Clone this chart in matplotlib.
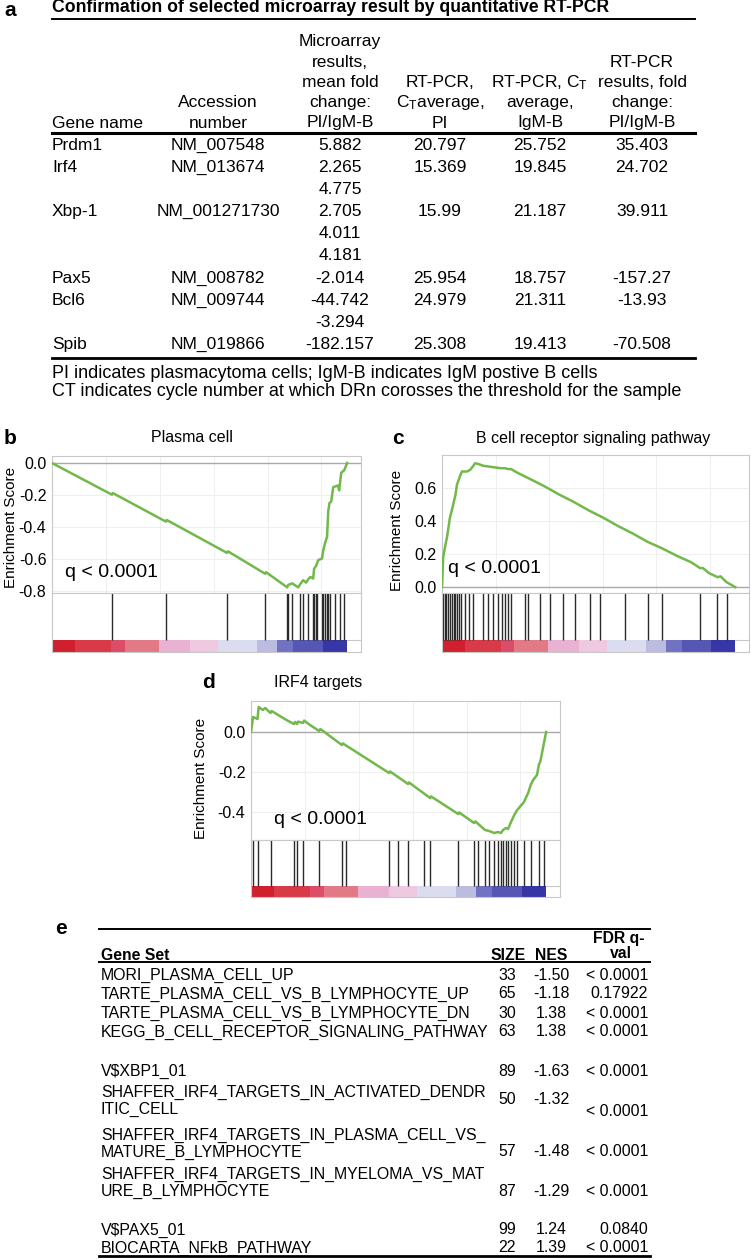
import matplotlib
matplotlib.use("Agg")
import matplotlib.pyplot as plt
from matplotlib.lines import Line2D

W, H = 751, 1260

plt.rcParams['font.family'] = ['Liberation Sans', 'DejaVu Sans']
plt.rcParams['mathtext.fontset'] = 'custom'
plt.rcParams['mathtext.rm'] = 'Liberation Sans'
plt.rcParams['mathtext.it'] = 'Liberation Sans:italic'
plt.rcParams['mathtext.bf'] = 'Liberation Sans:bold'

# ---------------- panel a: RT-PCR table
a_title = "Confirmation of selected microarray result by quantitative RT-PCR"
a_headers = [["Gene name"],
             ["Accession", "number"],
             ["Microarray", "results,", "mean fold", "change:", "PI/IgM-B"],
             ["RT-PCR,", r"C$_{\mathrm{T}}$average,", "PI"],
             [r"RT-PCR, C$_{\mathrm{T}}$", "average,", "IgM-B"],
             ["RT-PCR", "results, fold", "change:", "PI/IgM-B"]]
gene_names = ["Prdm1", "Irf4", "", "Xbp-1", "", "", "Pax5", "Bcl6", "", "Spib"]
accessions = ["NM_007548", "NM_013674", "", "NM_001271730", "", "",
              "NM_008782", "NM_009744", "", "NM_019866"]
microarray_fc = ["5.882", "2.265", "4.775", "2.705", "4.011", "4.181",
                 "-2.014", "-44.742", "-3.294", "-182.157"]
ct_pi = ["20.797", "15.369", "", "15.99", "", "", "25.954", "24.979", "", "25.308"]
ct_igm = ["25.752", "19.845", "", "21.187", "", "", "18.757", "21.311", "", "19.413"]
rtpcr_fc = ["35.403", "24.702", "", "39.911", "", "", "-157.27", "-13.93", "", "-70.508"]
a_notes = ["PI indicates plasmacytoma cells; IgM-B indicates IgM postive B cells",
           "CT indicates cycle number at which DRn corosses the threshold for the sample"]

# ---------------- GSEA panels (x = position in ranked list, 0..1)
b_es_x = [0, 0.203, 0.206, 0.386, 0.389, 0.593, 0.596, 0.722, 0.725, 0.797, 0.80, 0.814,
          0.834, 0.841, 0.851, 0.861, 0.868, 0.875, 0.885, 0.888, 0.895, 0.902, 0.915,
          0.919, 0.925, 0.932, 0.936, 0.940, 0.946, 0.953, 0.969, 0.973, 0.98, 0.99, 1.0]
b_es_y = [0, -0.197, -0.187, -0.365, -0.355, -0.56, -0.55, -0.69, -0.68, -0.775, -0.76, -0.75,
          -0.775, -0.755, -0.73, -0.745, -0.725, -0.71, -0.72, -0.66, -0.64, -0.605, -0.595,
          -0.545, -0.50, -0.46, -0.30, -0.25, -0.24, -0.15, -0.14, -0.17, -0.06, -0.045, 0.0]
b_hits = [0.203, 0.386, 0.593, 0.722, 0.797, 0.80, 0.814, 0.841, 0.851, 0.868, 0.885, 0.888,
          0.895, 0.898, 0.915, 0.919, 0.925, 0.932, 0.936, 0.942, 0.959, 0.976, 0.99]

c_es_x = [0, 0.004, 0.012, 0.017, 0.027, 0.037, 0.046, 0.051, 0.061, 0.068, 0.085, 0.096,
          0.105, 0.113, 0.125, 0.14, 0.16, 0.18, 0.20, 0.215, 0.225, 0.235, 0.26, 0.30, 0.35,
          0.40, 0.45, 0.50, 0.55, 0.60, 0.65, 0.70, 0.75, 0.80, 0.85, 0.88, 0.89, 0.91, 0.94,
          0.95, 0.97, 1.0]
c_es_y = [0, 0.18, 0.26, 0.30, 0.42, 0.49, 0.56, 0.62, 0.67, 0.70, 0.70, 0.71,
          0.73, 0.75, 0.745, 0.735, 0.73, 0.725, 0.72, 0.72, 0.715, 0.715, 0.69, 0.655, 0.61,
          0.56, 0.515, 0.465, 0.42, 0.37, 0.325, 0.275, 0.235, 0.19, 0.15, 0.115, 0.115, 0.085,
          0.06, 0.065, 0.03, 0.0]
c_hits = [0.0, 0.005, 0.01, 0.015, 0.02, 0.027, 0.034, 0.04, 0.046, 0.051, 0.058, 0.065,
          0.078, 0.092, 0.106, 0.14, 0.157, 0.174, 0.19, 0.205, 0.215, 0.225, 0.235, 0.283,
          0.294, 0.334, 0.368, 0.413, 0.454, 0.505, 0.539, 0.625, 0.703, 0.751, 0.881, 0.939,
          0.973]

d_es_x = [0, 0.007, 0.022, 0.026, 0.04, 0.048, 0.066, 0.07, 0.12, 0.146, 0.15, 0.156, 0.16,
          0.176, 0.18, 0.2, 0.231, 0.235, 0.308, 0.311, 0.468, 0.471, 0.532, 0.535, 0.607,
          0.61, 0.702, 0.705, 0.756, 0.76, 0.793, 0.807, 0.824, 0.837, 0.847, 0.854, 0.864,
          0.871, 0.881, 0.892, 0.902, 0.925, 0.939, 0.949, 0.956, 0.969, 0.976, 0.98, 0.99, 1.0]
d_es_y = [0, 0.075, 0.065, 0.125, 0.11, 0.12, 0.095, 0.105, 0.06, 0.04, 0.05, 0.04, 0.052,
          0.045, 0.057, 0.035, 0.005, 0.015, -0.065, -0.057, -0.205, -0.197, -0.26, -0.252,
          -0.33, -0.322, -0.41, -0.402, -0.455, -0.447, -0.49, -0.495, -0.505, -0.50, -0.505,
          -0.49, -0.48, -0.485, -0.45, -0.415, -0.39, -0.35, -0.305, -0.26, -0.24, -0.215,
          -0.16, -0.15, -0.075, 0.0]
d_hits = [0.007, 0.024, 0.068, 0.146, 0.156, 0.176, 0.231, 0.308, 0.322, 0.468, 0.498,
          0.532, 0.586, 0.607, 0.702, 0.756, 0.769, 0.793, 0.807, 0.824, 0.837, 0.847, 0.854,
          0.864, 0.871, 0.881, 0.892, 0.902, 0.925, 0.949, 0.976, 0.993]

# ranked-list colour bar: band edges and colours
band_edges = [0, 0.078, 0.20, 0.247, 0.363, 0.468, 0.563, 0.695, 0.763, 0.817, 0.919, 1.0]
band_colors = ['#d0202e', '#d83a48', '#dc4d6a', '#e27a86', '#eab2d2', '#efc9e0',
               '#dcdcf0', '#bcbce0', '#7272c4', '#5656b4', '#3636a6']

# ---------------- panel e: GSEA table
e_sets = ["MORI_PLASMA_CELL_UP",
          "TARTE_PLASMA_CELL_VS_B_LYMPHOCYTE_UP",
          "TARTE_PLASMA_CELL_VS_B_LYMPHOCYTE_DN",
          "KEGG_B_CELL_RECEPTOR_SIGNALING_PATHWAY",
          "V$XBP1_01",
          "SHAFFER_IRF4_TARGETS_IN_ACTIVATED_DENDR\nITIC_CELL",
          "SHAFFER_IRF4_TARGETS_IN_PLASMA_CELL_VS_\nMATURE_B_LYMPHOCYTE",
          "SHAFFER_IRF4_TARGETS_IN_MYELOMA_VS_MAT\nURE_B_LYMPHOCYTE",
          "V$PAX5_01",
          "BIOCARTA_NFkB_PATHWAY"]
e_size = ["33", "65", "30", "63", "89", "50", "57", "87", "99", "22"]
e_nes = ["-1.50", "-1.18", "1.38", "1.38", "-1.63", "-1.32", "-1.48", "-1.29", "1.24", "1.39"]
e_fdr = ["< 0.0001", "0.17922", "< 0.0001", "< 0.0001", "< 0.0001", "< 0.0001",
         "< 0.0001", "< 0.0001", "0.0840", "< 0.0001"]

fig = plt.figure(figsize=(W / 100, H / 100), dpi=100)


def tx(x, y, s, **kw):
    kw.setdefault('va', 'center')
    fig.text(x / W, 1 - y / H, s, **kw)


def hline(x0, x1, y, lw=1.0):
    fig.add_artist(Line2D([x0 / W, x1 / W], [1 - y / H, 1 - y / H], lw=lw,
                          color='black', transform=fig.transFigure))


def px_axes(x0, y0, x1, y1):
    return fig.add_axes([x0 / W, 1 - y1 / H, (x1 - x0) / W, (y1 - y0) / H])


# ----- panel a
tx(4, 11, "a", fontsize=15, fontweight='bold')
tx(52, 8, a_title, fontsize=12.7, fontweight='bold')
hline(52, 695, 19, lw=1.4)
col_x = [52, 218, 340, 440, 540, 642]
for ci, lines in enumerate(a_headers):
    for k, line in enumerate(reversed(lines)):
        tx(col_x[ci], 123 - 20.3 * k, line, fontsize=12.5,
           ha='left' if ci == 0 else 'center')
hline(52, 695, 133, lw=2.2)
cols = [gene_names, accessions, microarray_fc, ct_pi, ct_igm, rtpcr_fc]
for ci, col in enumerate(cols):
    for ri, val in enumerate(col):
        if val:
            tx(col_x[ci], 145 + 22.2 * ri, val, fontsize=12.5,
               ha='left' if ci == 0 else 'center')
hline(52, 695, 358, lw=2.0)
for k, note in enumerate(a_notes):
    tx(52, 373 + 19 * k, note, fontsize=13)


# ----- GSEA panels
def gsea(left, right, top, es_bot, hit_bot, bar_bot, es_x, es_y, hits, ylim, yticks,
         letter, letter_xy, title, title_x, q_xy, ylab_xy):
    xmax = 1.047
    ax = px_axes(left, top, right, es_bot)
    ax.plot(es_x, es_y, color='#72b84a', lw=1.8, zorder=3)
    ax.axhline(0, color='#a8a8a8', lw=1.0, zorder=2)
    ax.set_xlim(0, xmax)
    ax.set_ylim(*ylim)
    ax.set_yticks(yticks)
    ax.set_yticklabels([f"{t:.1f}" for t in yticks])
    ax.set_xticks([0.1826 * k for k in range(1, 6)])
    ax.set_xticklabels([])
    ax.grid(True, color='#efefef', lw=0.8)
    ax.tick_params(length=0, pad=4, labelsize=11.5)
    for s in ax.spines.values():
        s.set_color('#c8c8c8')
    tx(ylab_xy[0], ylab_xy[1], "Enrichment Score", fontsize=11, rotation=90, ha='center')
    tx(q_xy[0], q_xy[1], "q < 0.0001", fontsize=14)
    tx(letter_xy[0], letter_xy[1], letter, fontsize=15, fontweight='bold')
    tx(title_x, letter_xy[1], title, fontsize=11.5, ha='center')

    axh = px_axes(left, es_bot, right, bar_bot)
    bar_frac = (bar_bot - hit_bot) / (bar_bot - es_bot)
    axh.set_xlim(0, xmax)
    axh.set_ylim(0, 1)
    axh.vlines(hits, bar_frac, 1, color='#2a2a2a', lw=1.0)
    for e0, e1, c in zip(band_edges[:-1], band_edges[1:], band_colors):
        axh.axvspan(e0, e1, 0, bar_frac, color=c, lw=0)
    axh.axhline(bar_frac, xmin=1 / xmax, color='#c8c8c8', lw=0.8)
    axh.set_xticks([])
    axh.set_yticks([])
    for s in axh.spines.values():
        s.set_color('#c8c8c8')


gsea(52, 361, 456, 593, 640, 652, b_es_x, b_es_y, b_hits, (-0.81, 0.044),
     [0.0, -0.2, -0.4, -0.6, -0.8], "b", (4, 438), "Plasma cell", 192,
     (65, 573), (11, 527))
gsea(442, 749, 455, 593, 640, 652, c_es_x, c_es_y, c_hits, (-0.036, 0.80),
     [0.0, 0.2, 0.4, 0.6], "c", (392, 438), "B cell receptor signaling pathway", 593,
     (448, 569), (397, 530))
gsea(251, 560, 701, 840, 886, 897, d_es_x, d_es_y, d_hits, (-0.54, 0.155),
     [0.0, -0.2, -0.4], "d", (202, 682), "IRF4 targets", 318,
     (274, 820), (201, 778))

# ----- panel e
tx(55, 929, "e", fontsize=15, fontweight='bold')
hline(99, 650, 929, lw=1.4)
tx(101, 956, "Gene Set", fontsize=11.3, fontweight='bold')
tx(508, 956, "SIZE", fontsize=11.3, fontweight='bold', ha='center')
tx(551, 956, "NES", fontsize=11.3, fontweight='bold', ha='center')
tx(619, 939, "FDR q-", fontsize=11.3, fontweight='bold', ha='center')
tx(621, 953, "val", fontsize=11.3, fontweight='bold', ha='center')
hline(99, 650, 962, lw=1.4)

name_y = [975, 994, 1013, 1032, 1071, 1092, 1135, 1174, 1230, 1248]
val_y = [975, 994, 1013, 1032, 1071, 1099, 1152, 1191, 1230, 1248]
fdr_y = [975, 994, 1013, 1032, 1071, 1112, 1152, 1191, 1230, 1248]
for i, name in enumerate(e_sets):
    for k, part in enumerate(name.split("\n")):
        tx(101, name_y[i] + 17 * k, part, fontsize=11.4)
    tx(507, val_y[i], e_size[i], fontsize=11.4, ha='center')
    tx(551, val_y[i], e_nes[i], fontsize=11.4, ha='center')
    tx(648, fdr_y[i], e_fdr[i], fontsize=11.4, ha='right')
hline(99, 650, 1256, lw=2.0)

fig.savefig("out.png", dpi=100)
